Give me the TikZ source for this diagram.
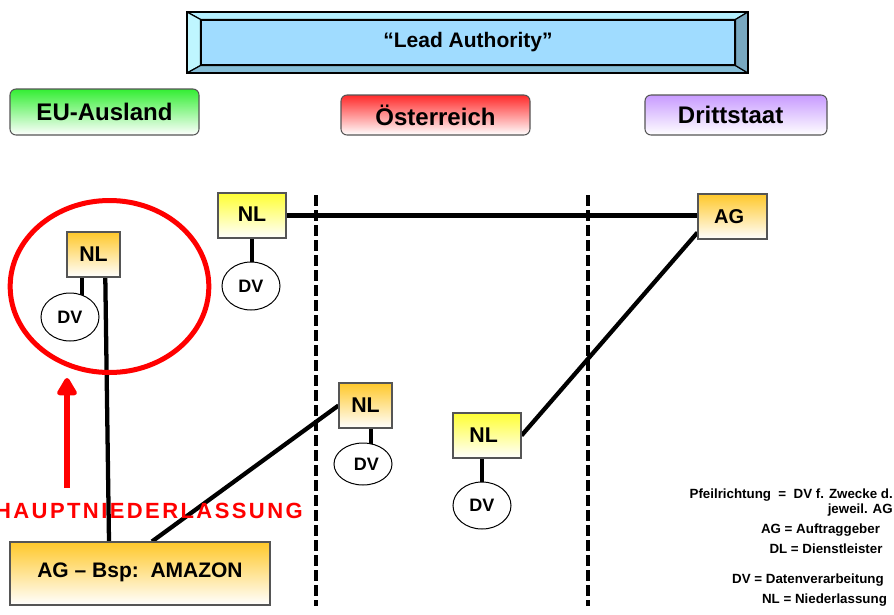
\documentclass[tikz,border=0pt]{standalone}
\usepackage{fontspec}
\setmainfont{Liberation Sans}
\newfontfamily\widesans[LetterSpace=11]{Liberation Sans}
\usetikzlibrary{arrows.meta,backgrounds,shapes.geometric}

\definecolor{leadface}{HTML}{A0DCFF}
\definecolor{leadtop}{HTML}{B4F0FF}
\definecolor{leadleft}{HTML}{BFF6FF}
\definecolor{leadbottom}{HTML}{86BED8}
\definecolor{leadright}{HTML}{78A8C0}
\definecolor{nlorange}{HTML}{FFC82A}
\definecolor{nlyellow}{HTML}{FFFF33}
\definecolor{eugreen}{HTML}{33EE33}
\definecolor{atred}{HTML}{FF2A2A}
\definecolor{thirdviolet}{HTML}{C89BFF}
\definecolor{boxedge}{HTML}{555555}

\begin{document}
\begin{tikzpicture}[x=0.75pt,y=-0.75pt,
  txt/.style={font=\bfseries\fontsize{#1}{#1}\selectfont},
  box/.style={draw=boxedge, line width=0.8pt, inner sep=0pt},
  orangebox/.style={box, top color=nlorange, bottom color=white},
  yellowbox/.style={box, top color=nlyellow, bottom color=white},
  region/.style={draw=boxedge, line width=0.8pt, rounded corners=4.5pt, inner sep=0pt,
    minimum height=30pt, txt=18, bottom color=white},
  dvnode/.style={ellipse, draw=black, fill=white, line width=0.75pt, inner sep=0pt,
    minimum width=43.5pt, txt=13.5},
  bevel/.style={draw=black, line width=0.9pt, line join=round},
  link/.style={line width=3.5pt},
  border/.style={draw=black, line width=3pt, dash pattern=on 8.25pt off 3pt},
  ring/.style={ellipse, draw=red, line width=3.75pt, inner sep=0pt},
  redarrow/.style={draw=red, line width=4.5pt,
    -{Triangle[length=15pt,width=16.5pt,round]}},
  legend/.style={txt=10, inner sep=0pt}
]
\useasboundingbox (0,0) rectangle (894,615);

% ---- "Lead Authority" bar with bevelled frame
\node[fill=leadface, draw=black, line width=0.9pt, minimum width=400.5pt,
  minimum height=33.75pt, inner sep=0pt, txt=15.75] (lead) at (468,42.5)
  {\raisebox{2pt}{“Lead Authority”}};
\coordinate (onw) at (187,12);
\coordinate (one) at (748,12);
\coordinate (ose) at (748,73);
\coordinate (osw) at (187,73);
\draw[bevel, fill=leadtop] (onw) -- (one) -- (lead.north east) -- (lead.north west) -- cycle;
\draw[bevel, fill=leadleft] (onw) -- (lead.north west) -- (lead.south west) -- (osw) -- cycle;
\draw[bevel, fill=leadbottom] (osw) -- (lead.south west) -- (lead.south east) -- (ose) -- cycle;
\draw[bevel, fill=leadright] (one) -- (ose) -- (lead.south east) -- (lead.north east) -- cycle;
\draw[line width=1.4pt] (onw) rectangle (ose);

% ---- column headings
\node[region, top color=eugreen, minimum width=141.75pt, minimum height=34.5pt] (eu) at (104.5,112) {\raisebox{-2.5pt}{EU-Ausland}};
\node[region, top color=atred, minimum width=141.75pt] (at) at (435.5,115) {Österreich};
\node[region, top color=thirdviolet, minimum width=136.5pt] (dritt) at (736,115) {\hspace*{-8pt}Drittstaat};

% ---- establishments and processing units
\node[orangebox, minimum width=39.75pt, minimum height=33.75pt, txt=16] (nl1) at (93.5,254.5) {NL};
\node[dvnode, minimum height=36pt] (dv1) at (70,317) {DV};
\node[yellowbox, minimum width=51pt, minimum height=33.75pt, txt=16] (nl2) at (252,215.5) {\raisebox{2pt}{NL}};
\node[dvnode, minimum height=36pt] (dv2) at (251,286) {DV};
\node[orangebox, minimum width=39.75pt, minimum height=33.75pt, txt=16] (nl3) at (365.5,405.5) {NL};
\node[dvnode, minimum height=31.5pt] (dv3) at (363,464) {\hspace*{5pt}DV};
\node[yellowbox, minimum width=51pt, minimum height=33.75pt, txt=16] (nl4) at (487,435.5) {\hspace*{-5pt}NL};
\node[dvnode, minimum height=35.25pt] (dv4) at (482,505.5) {DV};
\node[orangebox, minimum width=51.75pt, minimum height=33.75pt, txt=15] (ag) at (732.5,216.5) {\hspace*{-5pt}AG};
\node[orangebox, minimum width=195pt, minimum height=47.25pt, txt=15.75] (amazon) at (140,573.5)
  {\raisebox{4.5pt}{AG – Bsp:\ \ AMAZON}};

% ---- main establishment highlight
\node[ring, minimum width=149pt, minimum height=129pt] (hq) at (109.5,286.5) {};
\coordinate (arrowtail) at (67,488);
\coordinate (arrowtip) at (67,378);
\draw[redarrow] (arrowtail) -- (arrowtip);
\node[anchor=east, inner sep=0pt, text=red,
  font=\widesans\bfseries\fontsize{16.5}{18}\selectfont] (haupt) at (303,511) {HAUPTNIEDERLASSUNG};

% ---- jurisdiction borders
\coordinate (b1top) at (316,195);
\coordinate (b1bot) at (316,606);
\coordinate (b2top) at (588,195);
\coordinate (b2bot) at (588,606);
\draw[border] (b1top) -- (b1bot);
\draw[border] (b2top) -- (b2bot);

% ---- connections, kept behind the boxes
\begin{scope}[on background layer]
  \draw[link] ([xshift=-8.6pt]nl1.south) -- ([xshift=-8.6pt]nl1.south |- dv1.center);
  \draw[link] (nl2.south) -- (nl2.south |- dv2.center);
  \draw[link] ([xshift=4.1pt]nl3.south) -- ([xshift=4.1pt]nl3.south |- dv3.center);
  \draw[link] (dv4.center) -- (dv4.center |- nl4.center);
  \draw[link] (nl2.center) -- (nl2.center -| ag.center);
  \draw[link, line width=3.2pt] ([shift={(0,-7)}]ag.south west) -- (nl4.east);
  \draw[link, line width=3.2pt] ([xshift=8.6pt]nl1.center) -- ([xshift=-23.25pt]amazon.north);
  \draw[link, line width=3.2pt] (nl3.west) -- ([xshift=9pt]amazon.north);
\end{scope}

% ---- legend
\node[legend, anchor=base east] (leg1) at (893,498) {Pfeilrichtung\ \ =\ \ DV f. Zwecke d.};
\node[legend, anchor=base east] (leg2) at (893,513) {jeweil. AG};
\node[legend, anchor=base] (leg3) at (820.5,533) {AG = Auftraggeber};
\node[legend, anchor=base] (leg4) at (826,553) {DL = Dienstleister};
\node[legend, anchor=base] (leg5) at (808,583) {DV = Datenverarbeitung};
\node[legend, anchor=base] (leg6) at (824.5,603) {NL = Niederlassung};
\end{tikzpicture}
\end{document}
